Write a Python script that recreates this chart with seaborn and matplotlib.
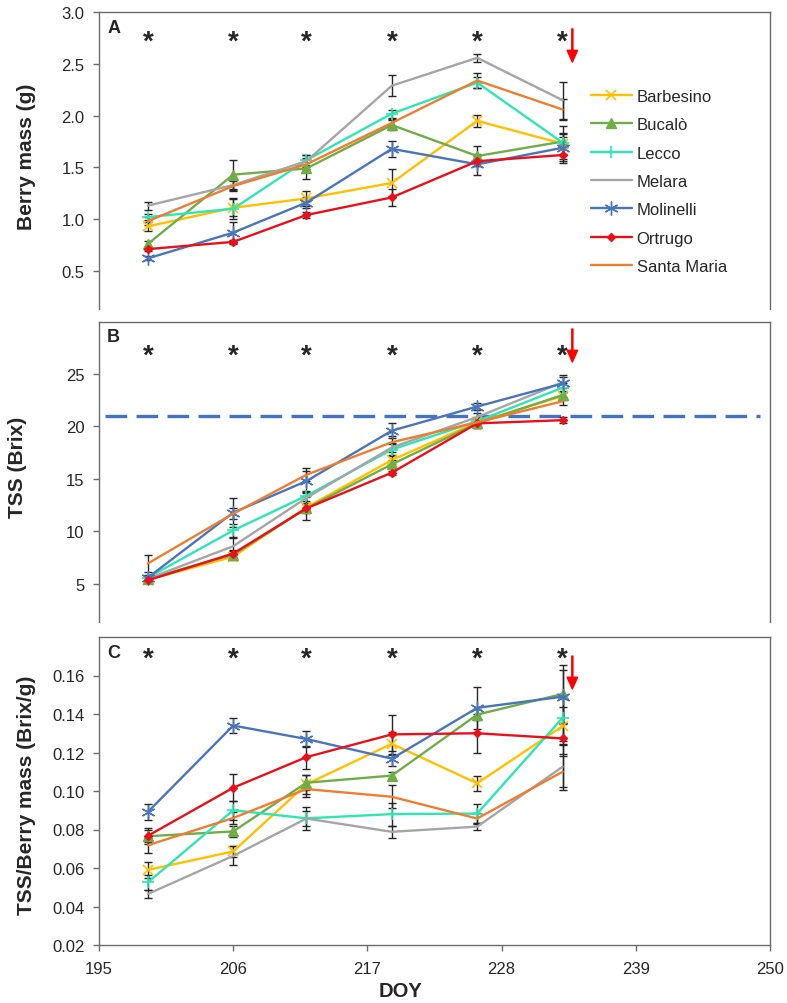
import matplotlib.pyplot as plt
import matplotlib.transforms as mtransforms
import seaborn as sns
import pandas as pd

# sampling dates (day of year)
doy = [199, 206, 212, 219, 226, 233]

cultivars = ['Barbesino', 'Bucalò', 'Lecco', 'Melara', 'Molinelli', 'Ortrugo', 'Santa Maria']

# A - berry mass (g)
barbesino_mass = [0.93, 1.11, 1.20, 1.35, 1.95, 1.73]
bucalo_mass = [0.76, 1.43, 1.49, 1.91, 1.61, 1.75]
lecco_mass = [1.02, 1.10, 1.57, 2.02, 2.32, 1.74]
melara_mass = [1.13, 1.33, 1.56, 2.29, 2.56, 2.15]
molinelli_mass = [0.62, 0.87, 1.16, 1.68, 1.53, 1.69]
ortrugo_mass = [0.71, 0.78, 1.04, 1.21, 1.56, 1.62]
santamaria_mass = [0.98, 1.32, 1.53, 1.93, 2.34, 2.06]

barbesino_mass_sd = [0.04, 0.08, 0.07, 0.13, 0.06, 0.10]
bucalo_mass_sd = [0.03, 0.14, 0.10, 0.05, 0.10, 0.04]
lecco_mass_sd = [0.03, 0.10, 0.05, 0.04, 0.05, 0.16]
melara_mass_sd = [0.04, 0.05, 0.06, 0.10, 0.04, 0.18]
molinelli_mass_sd = [0.02, 0.10, 0.05, 0.08, 0.10, 0.13]
ortrugo_mass_sd = [0.02, 0.02, 0.03, 0.08, 0.05, 0.08]
santamaria_mass_sd = [0.04, 0.05, 0.05, 0.04, 0.07, 0.10]

# B - TSS (Brix)
barbesino_tss = [5.4, 7.6, 12.3, 16.8, 20.4, 22.9]
bucalo_tss = [5.5, 7.8, 12.2, 16.4, 20.3, 23.0]
lecco_tss = [5.6, 10.1, 13.4, 17.8, 20.5, 23.7]
melara_tss = [5.5, 8.6, 13.2, 18.0, 20.9, 24.2]
molinelli_tss = [5.6, 11.8, 14.8, 19.6, 21.9, 24.1]
ortrugo_tss = [5.35, 7.9, 12.2, 15.6, 20.3, 20.6]
santamaria_tss = [6.95, 11.7, 15.4, 18.5, 20.4, 22.4]

barbesino_tss_sd = [0.2, 0.3, 0.3, 0.4, 0.4, 0.4]
bucalo_tss_sd = [0.2, 0.3, 0.4, 0.4, 0.4, 0.4]
lecco_tss_sd = [0.2, 0.6, 0.5, 0.5, 0.4, 0.4]
melara_tss_sd = [0.3, 0.8, 0.5, 0.4, 0.4, 0.5]
molinelli_tss_sd = [0.3, 1.4, 1.0, 0.7, 0.3, 0.8]
ortrugo_tss_sd = [0.2, 0.3, 1.1, 0.2, 0.4, 0.3]
santamaria_tss_sd = [0.8, 0.5, 0.6, 0.6, 0.4, 0.4]

tss_threshold = 21.0

# C - TSS / berry mass (Brix/g)
barbesino_ratio = [0.059, 0.0686, 0.1035, 0.1245, 0.104, 0.1337]
bucalo_ratio = [0.0765, 0.079, 0.1043, 0.108, 0.1397, 0.1504]
lecco_ratio = [0.0525, 0.090, 0.0858, 0.088, 0.0883, 0.138]
melara_ratio = [0.0465, 0.0663, 0.0857, 0.0788, 0.0815, 0.1126]
molinelli_ratio = [0.0891, 0.134, 0.127, 0.1168, 0.1432, 0.149]
ortrugo_ratio = [0.0767, 0.1017, 0.1176, 0.1294, 0.130, 0.1273]
santamaria_ratio = [0.0718, 0.086, 0.101, 0.097, 0.0857, 0.110]

barbesino_ratio_sd = [0.004, 0.003, 0.005, 0.006, 0.004, 0.010]
bucalo_ratio_sd = [0.003, 0.003, 0.004, 0.002, 0.003, 0.015]
lecco_ratio_sd = [0.004, 0.005, 0.004, 0.006, 0.005, 0.012]
melara_ratio_sd = [0.002, 0.005, 0.006, 0.003, 0.002, 0.012]
molinelli_ratio_sd = [0.004, 0.004, 0.004, 0.004, 0.011, 0.014]
ortrugo_ratio_sd = [0.004, 0.007, 0.006, 0.010, 0.010, 0.008]
santamaria_ratio_sd = [0.004, 0.003, 0.004, 0.006, 0.003, 0.008]

colors = {
    'Barbesino': '#FFC000',
    'Bucalò': '#70AD47',
    'Lecco': '#2EE6B2',
    'Melara': '#A5A5A5',
    'Molinelli': '#4A74BC',
    'Ortrugo': '#E8101A',
    'Santa Maria': '#ED7D31',
}
markers = {
    'Barbesino': ('x', 7, 1.2),
    'Bucalò': ('^', 7, 1.0),
    'Lecco': ('+', 9, 1.2),
    'Melara': (None, 0, 0),
    'Molinelli': ((6, 2, 0), 10, 1.0),
    'Ortrugo': ('D', 4.5, 1.0),
    'Santa Maria': (None, 0, 0),
}


def long_table(series, errors):
    rows = []
    for name, vals, errs in zip(cultivars, series, errors):
        for d, v, e in zip(doy, vals, errs):
            rows.append({'cultivar': name, 'doy': d, 'value': v, 'sd': e})
    return pd.DataFrame(rows)


mass_df = long_table(
    [barbesino_mass, bucalo_mass, lecco_mass, melara_mass, molinelli_mass, ortrugo_mass, santamaria_mass],
    [barbesino_mass_sd, bucalo_mass_sd, lecco_mass_sd, melara_mass_sd, molinelli_mass_sd, ortrugo_mass_sd,
     santamaria_mass_sd])
tss_df = long_table(
    [barbesino_tss, bucalo_tss, lecco_tss, melara_tss, molinelli_tss, ortrugo_tss, santamaria_tss],
    [barbesino_tss_sd, bucalo_tss_sd, lecco_tss_sd, melara_tss_sd, molinelli_tss_sd, ortrugo_tss_sd,
     santamaria_tss_sd])
ratio_df = long_table(
    [barbesino_ratio, bucalo_ratio, lecco_ratio, melara_ratio, molinelli_ratio, ortrugo_ratio, santamaria_ratio],
    [barbesino_ratio_sd, bucalo_ratio_sd, lecco_ratio_sd, melara_ratio_sd, molinelli_ratio_sd, ortrugo_ratio_sd,
     santamaria_ratio_sd])

sns.set_style('ticks')
plt.rcParams['font.family'] = ['Liberation Sans', 'DejaVu Sans']

W, H = 787, 1004
fig = plt.figure(figsize=(W / 100, H / 100), dpi=100)


def px_axes(left, right, top, bottom):
    return fig.add_axes([left / W, 1 - bottom / H, (right - left) / W, (bottom - top) / H])


ax_a = px_axes(99, 770, 13.3, 310)
ax_b = px_axes(99, 770, 322.5, 623)
ax_c = px_axes(99, 770, 638, 946)


def draw_panel(ax, df):
    for name in cultivars:
        sub = df[df['cultivar'] == name]
        ax.errorbar(sub['doy'], sub['value'], yerr=sub['sd'], fmt='none', ecolor='#262626',
                    elinewidth=1.0, capsize=3.2, capthick=1.0, zorder=2)
    for name in cultivars:
        sub = df[df['cultivar'] == name]
        m, ms, mew = markers[name]
        kw = dict(marker=m, markersize=ms, markeredgecolor=colors[name],
                  markerfacecolor=colors[name], markeredgewidth=mew) if m else {}
        sns.lineplot(data=sub, x='doy', y='value', color=colors[name], linewidth=1.7,
                     errorbar=None, legend=False, label=name, ax=ax, zorder=3, **kw)


draw_panel(ax_a, mass_df)
draw_panel(ax_b, tss_df)
draw_panel(ax_c, ratio_df)

# harvest threshold line in B
ax_b.axhline(tss_threshold, xmin=0.009, xmax=0.985, color='#4472C4', linewidth=2.4,
             dashes=(6.5, 2.8), zorder=1)

spine_col = '#6b6b6b'
for ax in (ax_a, ax_b, ax_c):
    ax.set_xlim(195, 250)
    ax.set_xlabel('')
    ax.set_ylabel('')
    for s in ax.spines.values():
        s.set_color(spine_col)
        s.set_linewidth(1.0)
    ax.tick_params(axis='both', direction='out', length=4.5, width=1.0, color=spine_col,
                   labelsize=12, pad=6)

for ax in (ax_a, ax_b):
    ax.spines['bottom'].set_visible(False)
    ax.set_xticks([])

ax_a.set_ylim(0.131, 3.0)
ax_a.set_yticks([0.5, 1.0, 1.5, 2.0, 2.5, 3.0])
ax_a.set_yticklabels([f'{v:.1f}' for v in [0.5, 1.0, 1.5, 2.0, 2.5, 3.0]])

ax_b.set_ylim(1.38, 30)
ax_b.set_yticks([5, 10, 15, 20, 25])

ax_c.set_ylim(0.02, 0.18)
ax_c.set_yticks([0.02, 0.04, 0.06, 0.08, 0.10, 0.12, 0.14, 0.16])
ax_c.set_yticklabels([f'{v:.2f}' for v in [0.02, 0.04, 0.06, 0.08, 0.10, 0.12, 0.14, 0.16]])
ax_c.set_xticks([195, 206, 217, 228, 239, 250])
ax_c.tick_params(axis='x', pad=7)

# panel letters, significance stars and harvest arrows
for ax, letter, star_y, arrow_top, arrow_tip in [
        (ax_a, 'A', 0.878, 0.944, 0.832),
        (ax_b, 'B', 0.864, 0.975, 0.865),
        (ax_c, 'C', 0.907, 0.938, 0.831)]:
    ax.text(0.012, 0.977, letter, transform=ax.transAxes, ha='left', va='top',
            fontsize=13, fontweight='bold')
    trans = mtransforms.blended_transform_factory(ax.transData, ax.transAxes)
    for d in doy:
        ax.text(d, star_y, '*', transform=trans, ha='center', va='baseline',
                fontsize=20, fontweight='bold')
    ax.annotate('', xy=(233.8, arrow_tip), xytext=(233.8, arrow_top),
                xycoords=('data', 'axes fraction'),
                arrowprops=dict(color='#FF0000', width=0.8, headwidth=7.5, headlength=8.5))

ax_a.legend(loc='upper left', bbox_to_anchor=(0.733, 0.742), frameon=False, fontsize=12,
            handlelength=2.45, handletextpad=0.3, labelspacing=0.8, borderpad=0,
            borderaxespad=0)

fig.text(27 / W, 1 - 157 / H, 'Berry mass (g)', rotation=90, ha='center', va='center',
         fontsize=15, fontweight='bold')
fig.text(18 / W, 1 - 467 / H, 'TSS (Brix)', rotation=90, ha='center', va='center',
         fontsize=15, fontweight='bold')
fig.text(27 / W, 1 - 795 / H, 'TSS/Berry mass (Brix/g)', rotation=90, ha='center', va='center',
         fontsize=15, fontweight='bold')
fig.text(400 / W, 1 - 992 / H, 'DOY', ha='center', va='center', fontsize=14.5, fontweight='bold')

fig.savefig('out.png', dpi=100)
